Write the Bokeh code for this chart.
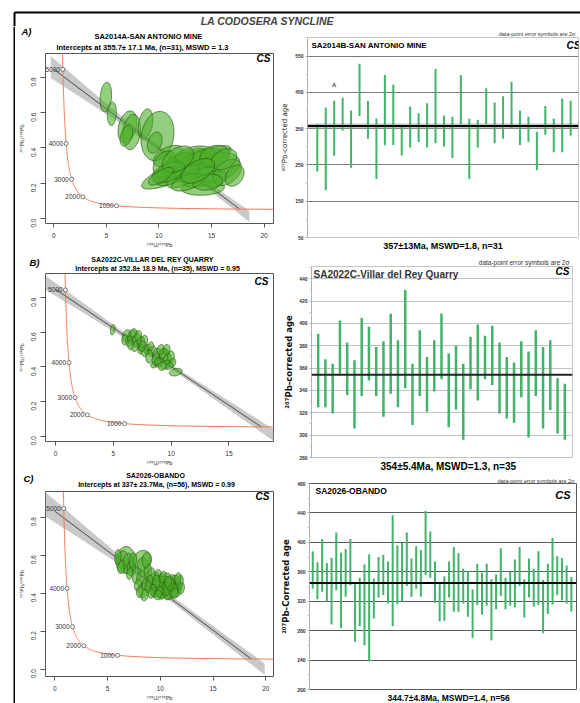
import numpy as np
from bokeh.plotting import figure
from bokeh.layouts import row, column
from bokeh.models import (Range1d, Label, FixedTicker, Span, BoxAnnotation, Title,
                          PrintfTickFormatter)
from bokeh.core.properties import value
from bokeh.embed import file_html
from bokeh.resources import INLINE

SANS = "Liberation Sans"
SUPER = "DejaVu Sans"          # complete set of superscript digits

# ---------------------------------------------------------------- constants
LAMBDA_238 = 1.55125e-10      # 1/yr
LAMBDA_235 = 9.8485e-10       # 1/yr
U238_OVER_U235 = 137.88
CONCORDIA_AGES_MA = list(range(250, 5601, 25))
CONCORDIA_TICK_AGES_MA = [1000, 2000, 3000, 4000, 5000]

# ---------------------------------------------------------------- sample SA2014A (Tera-Wasserburg)
A_ELL_X = [4.94, 5.51, 7.0, 7.4, 6.9, 8.72, 9.86, 12.6, 10.87, 12.28, 11.5, 13.23, 14.33, 15.6, 14.17,
           14.0, 15.28, 12.28, 10.55, 13.4, 15.3, 16.5, 12.75, 10.9, 11.8, 16.2, 9.6, 14.65, 17.2, 10.2, 13.7]
A_ELL_Y = [0.688, 0.594, 0.52, 0.49, 0.47, 0.535, 0.467, 0.29, 0.355, 0.314, 0.28, 0.30, 0.318, 0.29, 0.172,
           0.234, 0.224, 0.243, 0.308, 0.355, 0.355, 0.262, 0.206, 0.262, 0.336, 0.336, 0.43, 0.206, 0.243, 0.24, 0.27]
A_ELL_SX = [0.55, 0.43, 0.9, 0.85, 0.6, 0.7, 1.57, 4.25, 1.42, 2.36, 1.9, 1.73, 1.9, 2.1, 2.05,
            1.9, 1.2, 1.57, 1.1, 1.9, 1.4, 1.34, 1.57, 1.57, 1.5, 1.2, 0.7, 1.4, 0.9, 1.2, 1.6]
A_ELL_SY = [0.084, 0.067, 0.09, 0.1, 0.06, 0.086, 0.14, 0.123, 0.06, 0.084, 0.093, 0.09, 0.08, 0.084, 0.04,
            0.056, 0.047, 0.07, 0.075, 0.056, 0.06, 0.075, 0.05, 0.06, 0.075, 0.06, 0.06, 0.045, 0.06, 0.05, 0.07]
A_ELL_RHO = [0.2, 0.1, 0.3, 0.2, 0.4, 0.3, 0.15, 0.85, 0.5, 0.7, 0.6, 0.6, 0.4, 0.3, 0.1,
             0.4, 0.3, 0.6, 0.3, 0.3, 0.2, 0.4, 0.5, 0.5, 0.4, 0.3, 0.3, 0.2, 0.3, 0.7, 0.5]
A_DISC_X = [0.0, 17.66]
A_DISC_Y = [0.845, 0.054]
A_BAND_X = [-0.3, 3.0, 6.0, 10.0, 14.0, 17.0, 18.6]
A_BAND_HW = [0.062, 0.042, 0.024, 0.015, 0.018, 0.026, 0.032]

# ---------------------------------------------------------------- sample SA2022C
B_ELL_X = [4.94, 6.16, 6.65, 7.02, 6.36, 7.37, 6.88, 7.66, 5.98, 7.95, 8.38, 8.8, 9.39, 9.3, 9.68, 8.96, 8.53, 9.97,
           9.54, 10.1, 10.4, 8.1, 8.67, 7.37, 7.72, 9.1, 6.5, 7.14, 6.73, 9.83, 9.25, 8.24, 8.82, 9.6, 7.5]
B_ELL_Y = [0.615, 0.58, 0.573, 0.554, 0.548, 0.538, 0.519, 0.548, 0.557, 0.5, 0.49, 0.472, 0.466, 0.48, 0.443, 0.424,
           0.414, 0.458, 0.414, 0.424, 0.37, 0.462, 0.443, 0.5, 0.49, 0.5, 0.529, 0.58, 0.596, 0.405, 0.405, 0.52,
           0.433, 0.5, 0.52]
B_ELL_SX = [0.2, 0.38, 0.4, 0.38, 0.3, 0.35, 0.3, 0.3, 0.25, 0.3, 0.35, 0.4, 0.45, 0.35, 0.35, 0.4, 0.3, 0.3, 0.45,
            0.3, 0.55, 0.3, 0.3, 0.25, 0.3, 0.3, 0.25, 0.3, 0.3, 0.35, 0.35, 0.25, 0.3, 0.3, 0.3]
B_ELL_SY = [0.03, 0.035, 0.04, 0.04, 0.03, 0.04, 0.03, 0.035, 0.03, 0.03, 0.03, 0.035, 0.04, 0.03, 0.035, 0.025,
            0.02, 0.035, 0.025, 0.025, 0.022, 0.04, 0.035, 0.025, 0.03, 0.03, 0.03, 0.03, 0.025, 0.02, 0.025, 0.025,
            0.02, 0.03, 0.03]
B_ELL_RHO = [0.3, 0.2, 0.1, 0.1, 0.2, 0.1, 0.2, 0.2, 0.1, 0.2, 0.2, 0.1, 0.1, 0.2, 0.2, 0.3, 0.2, 0.1, 0.3,
             0.2, 0.3, 0.1, 0.2, 0.2, 0.1, 0.2, 0.1, 0.2, 0.2, 0.3, 0.2, 0.1, 0.2, 0.1, 0.2]
B_DISC_X = [0.0, 17.78]
B_DISC_Y = [0.848, 0.054]
B_BAND_X = [-0.9, 3.0, 6.0, 9.0, 12.0, 15.0, 18.9]
B_BAND_HW = [0.04, 0.026, 0.016, 0.012, 0.016, 0.025, 0.034]

# ---------------------------------------------------------------- sample SA2026
C_ELL_X = [6.69, 6.47, 6.94, 6.3, 7.26, 8.3, 8.36, 7.73, 8.2, 8.36, 8.68, 8.83, 7.89,
           9.46, 9.78, 10.1, 10.41, 10.73, 11.04, 11.36, 11.67, 11.51, 10.88, 10.25, 9.78, 9.31, 9.46, 10.57,
           9.94, 10.73, 11.2, 11.83, 9.15, 10.41, 10.1, 11.04, 9.62, 8.99, 9.31, 11.36, 10.57, 9.94, 10.88,
           10.25, 8.83, 8.52, 8.04, 7.41, 5.99, 7.1, 8.68, 11.99, 9.78, 11.67, 9.15, 10.73]
C_ELL_Y = [0.575, 0.573, 0.555, 0.538, 0.53, 0.573, 0.538, 0.494, 0.477, 0.416, 0.45, 0.512, 0.442,
           0.477, 0.494, 0.468, 0.45, 0.433, 0.442, 0.46, 0.433, 0.407, 0.398, 0.407, 0.425, 0.442, 0.407, 0.477,
           0.45, 0.39, 0.416, 0.46, 0.494, 0.425, 0.398, 0.468, 0.46, 0.46, 0.416, 0.398, 0.416, 0.407, 0.45,
           0.485, 0.433, 0.39, 0.407, 0.573, 0.59, 0.503, 0.573, 0.425, 0.39, 0.477, 0.398, 0.46]
C_ELL_SX = [0.9, 0.5, 0.5, 0.35, 0.4, 0.87, 0.55, 0.4, 0.45, 0.45, 0.4, 0.35, 0.35,
            0.4, 0.35, 0.4, 0.5, 0.45, 0.45, 0.5, 0.4, 0.45, 0.5, 0.45, 0.4, 0.35, 0.35, 0.4,
            0.45, 0.4, 0.45, 0.35, 0.35, 0.35, 0.4, 0.35, 0.35, 0.3, 0.3, 0.35, 0.35, 0.35, 0.4,
            0.3, 0.3, 0.35, 0.3, 0.35, 0.3, 0.3, 0.4, 0.3, 0.35, 0.3, 0.3, 0.35]
C_ELL_SY = [0.07, 0.05, 0.055, 0.035, 0.04, 0.052, 0.05, 0.045, 0.04, 0.04, 0.035, 0.04, 0.03,
            0.035, 0.03, 0.035, 0.04, 0.035, 0.04, 0.035, 0.03, 0.03, 0.03, 0.035, 0.035, 0.035, 0.03, 0.03,
            0.04, 0.025, 0.035, 0.035, 0.04, 0.03, 0.03, 0.03, 0.035, 0.035, 0.03, 0.025, 0.03, 0.03, 0.035,
            0.03, 0.03, 0.03, 0.03, 0.04, 0.04, 0.03, 0.04, 0.03, 0.025, 0.03, 0.025, 0.03]
C_ELL_RHO = [0.1, 0.0, 0.1, 0.2, 0.1, 0.1, 0.0, 0.1, 0.2, 0.1, 0.2, 0.1, 0.2,
             0.2, 0.1, 0.2, 0.1, 0.2, 0.1, 0.2, 0.1, 0.2, 0.1, 0.2, 0.1, 0.2, 0.1, 0.2,
             0.1, 0.2, 0.1, 0.2, 0.1, 0.2, 0.1, 0.2, 0.1, 0.2, 0.1, 0.2, 0.1, 0.2, 0.1,
             0.2, 0.1, 0.2, 0.1, 0.2, 0.1, 0.2, 0.1, 0.2, 0.1, 0.2, 0.1, 0.2]
C_DISC_X = [0.0, 18.63]
C_DISC_Y = [0.831, 0.053]
C_BAND_X = [-0.9, 3.0, 6.0, 9.0, 12.0, 15.0, 18.0, 19.9]
C_BAND_HW = [0.064, 0.04, 0.024, 0.017, 0.018, 0.022, 0.027, 0.03]

# ---------------------------------------------------------------- 207Pb-corrected ages (2 sigma bars)
A_AGE_HI = [363, 408, 427, 435, 400, 529, 426, 378, 498, 471, 356, 411, 392, 420, 514, 386,
            383, 498, 377, 374, 461, 422, 439, 479, 400, 383, 341, 412, 378, 433, 427]
A_AGE_LO = [232, 180, 275, 345, 242, 385, 322, 211, 304, 305, 276, 298, 313, 298, 310, 301,
            269, 363, 211, 298, 363, 310, 322, 351, 305, 313, 235, 333, 285, 285, 330]
A_MEAN, A_MEAN_ERR, A_MSWD = 357, 13, 1.8
A_MEAN_BAND = 7

B_AGE_HI = [390.6, 368, 364, 402.6, 383, 367, 405, 397, 379, 384, 408.6, 385, 430, 364, 394, 370, 385, 409,
            373, 380, 364, 388, 399, 389, 398, 383, 370, 365, 384, 375, 394, 379, 385, 351, 346]
B_AGE_LO = [324.9, 325, 319.5, 355, 336, 306, 335, 349, 335, 316.5, 337, 325, 342, 309, 335, 321, 339, 350,
            307, 323, 296, 341, 331, 350, 345, 319.5, 315, 311, 334, 298, 335, 306, 322.5, 301.5, 296]
B_MEAN, B_MEAN_ERR, B_MSWD = 354, 5.4, 1.3

C_AGE_HI = [388, 373, 404.5, 372, 379, 413.5, 386, 391, 404.5, 343, 352, 370, 384, 351, 380, 383, 374, 437,
            396, 399, 413.5, 378, 394.6, 390, 442.7, 414.8, 374, 343, 354, 374, 393.7, 385.6, 364, 361, 336,
            371, 358.6, 370.8, 349.7, 356.4, 392, 352, 360, 376.6, 393.7, 349.7, 378, 364, 387.9, 348.7,
            371, 405.8, 381, 378.9, 368.5, 353]
C_AGE_LO = [337, 322.7, 333, 319.5, 288.5, 335, 283.6, 326, 341.6, 265, 286, 260, 238, 296.6, 325, 328.5,
            317, 286, 316, 320, 340.7, 326, 337, 326, 356, 352, 317.7, 292.6, 293.5, 325, 305.6, 305.6,
            316.8, 299, 270, 315, 302, 313.7, 266.5, 309, 327, 309, 313.7, 311.5, 340.7, 298, 325, 312.8,
            315, 276.4, 302.5, 315.5, 328.5, 321, 317, 306]
C_MEAN, C_MEAN_ERR, C_MSWD = 344.7, 4.8, 1.4

ELL_FILL = "#4caf2a"
ELL_LINE = "#2a5a12"
BAR_COLOR = "#41b36a"
CONC_COLOR = "#f07a5a"
THETA = np.linspace(0.0, 2.0 * np.pi, 64)
PB76 = "\u00b2\u2070\u2077Pb/\u00b2\u2070\u2076Pb"
U8PB6 = "\u00b2\u00b3\u2078U/\u00b2\u2070\u2076Pb"
SIGMA_NOTE = "data-point error symbols are 2\u03c3"


# ---------------------------------------------------------------- helpers
def bare(w, h, xr, yr):
    f = figure(width=w, height=h, x_range=Range1d(*xr), y_range=Range1d(*yr), min_border=0,
               toolbar_location=None, output_backend="svg", x_axis_location=None,
               y_axis_location=None, outline_line_color=None, background_fill_color="white",
               border_fill_color="white", frame_align=False)
    f.grid.visible = False
    return f


def text_strip(origin, w, h, items):
    """A text-only band; items hold page pixel positions."""
    ox, oy = origin
    f = bare(w, h, (0, w), (h, 0))
    for x, y, text, size, style, align, color in items:
        f.add_layout(Label(x=x - ox, y=y - oy, text=text, text_font=SANS, text_font_size=f"{size}px",
                           text_font_style=style, text_align=align, text_baseline="middle",
                           text_color=color))
    return f


def make_fig(origin, size, border, xr, yr):
    ox, oy = origin
    w, h = size
    bl, bt, br, bb = border
    p = figure(width=w, height=h, x_range=Range1d(*xr), y_range=Range1d(*yr),
               min_border_left=bl, min_border_top=bt, min_border_right=br, min_border_bottom=bb,
               toolbar_location=None, output_backend="svg", frame_align=False,
               background_fill_color="white", border_fill_color="white")
    p.xgrid.visible = False
    p.ygrid.visible = False
    frame = (ox + bl, oy + bt, ox + w - br, oy + h - bb)
    return p, frame


def put(p, frame, x, y, text, size, style="normal", align="center", color="#000000"):
    """Text inside a plot frame, given in page pixels."""
    p.add_layout(Label(x=x - frame[0], y=frame[3] - y, x_units="screen", y_units="screen",
                       text=text, text_font=SANS, text_font_size=f"{size}px",
                       text_font_style=style, text_align=align, text_baseline="middle",
                       text_color=color))


def ellipse_paths(cx, cy, sx, sy, rho):
    xs, ys = [], []
    for x0, y0, a, b, r in zip(cx, cy, sx, sy, rho):
        xs.append((x0 + a * np.cos(THETA)).tolist())
        ys.append((y0 + b * (r * np.cos(THETA) + np.sqrt(1 - r * r) * np.sin(THETA))).tolist())
    return xs, ys


def concordia(ages_ma):
    t = np.asarray(ages_ma, dtype=float) * 1e6
    e238 = np.expm1(LAMBDA_238 * t)
    e235 = np.expm1(LAMBDA_235 * t)
    return 1.0 / e238, e235 / e238 / U238_OVER_U235


def isochron(origin, size, border, xr, yr, xticks, ell, disc_x, disc_y, band_x, band_hw):
    p, fr = make_fig(origin, size, border, xr, yr)
    p.outline_line_color = "#555555"
    slope = (disc_y[1] - disc_y[0]) / (disc_x[1] - disc_x[0])
    centre = disc_y[0] + slope * (np.asarray(band_x) - disc_x[0])
    p.varea(x=band_x, y1=(centre - np.asarray(band_hw)).tolist(),
            y2=(centre + np.asarray(band_hw)).tolist(), fill_color="#9c9c9c", fill_alpha=0.55)
    p.line(disc_x, disc_y, line_color="#4a4a4a", line_width=1)
    cxv, cyv = concordia(CONCORDIA_AGES_MA)
    p.line(cxv.tolist(), cyv.tolist(), line_color=CONC_COLOR, line_width=1)
    mx, my = concordia(CONCORDIA_TICK_AGES_MA)
    p.scatter(mx.tolist(), my.tolist(), marker="circle", size=4, fill_color="white",
              line_color="#555555", line_width=0.8)
    p.text(mx.tolist(), my.tolist(), text=[str(a) for a in CONCORDIA_TICK_AGES_MA],
           text_font=value(SANS), text_font_size="6.5px", text_color="#333333",
           text_align="right", text_baseline="middle", x_offset=-3)
    xs, ys = ellipse_paths(*ell)
    p.patches(xs, ys, fill_color=ELL_FILL, fill_alpha=0.6, line_color=ELL_LINE,
              line_width=0.8, line_alpha=0.85)
    for ax in (p.xaxis[0], p.yaxis[0]):
        ax.major_label_text_font = SANS
        ax.major_label_text_font_size = "6.5px"
        ax.major_label_text_color = "#333333"
        ax.axis_line_color = "#555555"
        ax.major_tick_line_color = "#555555"
        ax.major_tick_in = 0
        ax.minor_tick_out = 0
        ax.minor_tick_in = 0
        ax.axis_label_text_font = SUPER
        ax.axis_label_text_font_size = "5.5px"
        ax.axis_label_text_font_style = "normal"
        ax.axis_label_text_color = "#333333"
    p.xaxis.axis_label = U8PB6
    p.xaxis.major_tick_out = 4
    p.xaxis.major_label_standoff = 5
    p.xaxis.axis_label_standoff = 1
    p.yaxis.axis_label = PB76
    p.yaxis.major_tick_out = 5
    p.yaxis.major_label_standoff = 7
    p.yaxis.axis_label_standoff = 1
    p.xaxis.ticker = FixedTicker(ticks=xticks, minor_ticks=[])
    p.xaxis.bounds = (xticks[0], xticks[-1])
    p.yaxis.ticker = FixedTicker(ticks=[0.0, 0.2, 0.4, 0.6, 0.8], minor_ticks=[])
    p.yaxis.bounds = (0.0, 0.8)
    p.yaxis.formatter = PrintfTickFormatter(format="%.1f")
    p.yaxis.major_label_orientation = np.pi / 2
    return p, fr


def mean_plot(origin, size, border, xr, yr, hi, lo, ticks, minor, grid, grid_color,
              tick_size, outline, bar_width, ylabel, ylabel_size, ylabel_style, ylabel_standoff,
              note, caption):
    p, fr = make_fig(origin, size, border, xr, yr)
    p.outline_line_color = outline
    p.xaxis.visible = False
    p.ygrid.visible = True
    p.ygrid.ticker = FixedTicker(ticks=grid)
    p.ygrid.grid_line_color = grid_color
    p.ygrid.grid_line_width = 1.1
    idx = list(range(1, len(hi) + 1))
    p.segment(x0=idx, y0=lo, x1=idx, y1=hi, line_color=BAR_COLOR, line_width=bar_width)
    ax = p.yaxis[0]
    ax.ticker = FixedTicker(ticks=ticks, minor_ticks=minor)
    ax.major_label_text_font = SANS
    ax.major_label_text_font_size = f"{tick_size}px"
    ax.major_label_text_font_style = "bold"
    ax.major_label_text_color = "#333333"
    ax.axis_line_color = "#b0b0b0"
    ax.major_tick_line_color = "#b0b0b0"
    ax.minor_tick_line_color = "#c8c8c8"
    ax.major_tick_in = 0
    ax.minor_tick_in = 0
    ax.major_tick_out = 2
    ax.minor_tick_out = 2
    ax.major_label_standoff = 2
    ax.axis_label = ylabel
    ax.axis_label_text_font = SUPER
    ax.axis_label_text_font_size = f"{ylabel_size}px"
    ax.axis_label_text_font_style = ylabel_style
    ax.axis_label_text_color = "#111111"
    ax.axis_label_standoff = ylabel_standoff
    # sigma note above the frame, result line below it
    n_text, n_size, n_offset, n_standoff = note
    p.add_layout(Title(text=n_text, align="right", offset=n_offset, standoff=n_standoff,
                       text_font=SANS, text_font_size=f"{n_size}px", text_font_style="normal",
                       text_color="#333333"), "above")
    c_text, c_size, c_align, c_offset, c_standoff = caption
    p.add_layout(Title(text=c_text, align=c_align, offset=c_offset, standoff=c_standoff,
                       text_font=SANS, text_font_size=f"{c_size}px", text_font_style="bold",
                       text_color="#000000"), "below")
    return p, fr


# ---------------------------------------------------------------- header and outer frame
header = bare(580, 26, (0, 580), (26, 0))
header.segment(x0=[14, 14], y0=[12, 12], x1=[580, 14], y1=[12, 26], line_color="black", line_width=2)
header.add_layout(Label(x=267, y=20, text="LA CODOSERA SYNCLINE", text_font=SANS,
                        text_font_size="10.5px", text_font_style="bold italic",
                        text_align="center", text_baseline="middle"))

strip = bare(15, 677, (0, 15), (0, 1))
strip.add_layout(Span(location=14, dimension="height", line_color="black", line_width=2))

# ---------------------------------------------------------------- left column: isochrons
tA = text_strip((15, 26), 263, 27, [
    (26, 31, "A)", 9.5, "bold italic", "center", "#000000"),
    (148, 36, "SA2014A-SAN ANTONIO MINE", 7.5, "bold", "center", "#000000"),
    (143, 47, "Intercepts at  355.7\u00b1 17.1 Ma, (n=31), MSWD = 1.3", 7.5, "bold", "center", "#000000"),
])
pa, fa = isochron((15, 53), (263, 197), (28, 0, 5, 25), (-0.8, 20.9), (-0.028, 0.935),
                  [0, 5, 10, 15, 20], (A_ELL_X, A_ELL_Y, A_ELL_SX, A_ELL_SY, A_ELL_RHO),
                  A_DISC_X, A_DISC_Y, A_BAND_X, A_BAND_HW)
put(pa, fa, 268, 60, "CS", 10, "bold italic", align="right")

tB = text_strip((15, 250), 263, 23, [
    (34, 262, "B)", 9.5, "bold italic", "center", "#000000"),
    (152, 259, "SA2022C-VILLAR DEL REY QUARRY", 7, "bold", "center", "#000000"),
    (158, 267.5, "Intercepts at  352.8\u00b1 18.9 Ma, (n=35), MSWD = 0.95", 7, "bold", "center", "#000000"),
])
pb, fb_ = isochron((15, 273), (263, 195), (30, 0, 5, 25), (-0.87, 18.85), (-0.031, 0.94),
                   [0, 5, 10, 15], (B_ELL_X, B_ELL_Y, B_ELL_SX, B_ELL_SY, B_ELL_RHO),
                   B_DISC_X, B_DISC_Y, B_BAND_X, B_BAND_HW)
put(pb, fb_, 268, 283, "CS", 10, "bold italic", align="right")

tC = text_strip((15, 468), 263, 23, [
    (28, 478, "C)", 9.5, "bold italic", "center", "#000000"),
    (155, 474.5, "SA2026-OBANDO", 7, "bold", "center", "#000000"),
    (157, 484, "Intercepts at  337\u00b1 23.7Ma, (n=56), MSWD = 0.99", 7, "bold", "center", "#000000"),
])
pc, fc = isochron((15, 491), (263, 212), (29, 0, 5, 26), (-0.88, 20.73), (-0.039, 0.935),
                  [0, 5, 10, 15, 20], (C_ELL_X, C_ELL_Y, C_ELL_SX, C_ELL_SY, C_ELL_RHO),
                  C_DISC_X, C_DISC_Y, C_BAND_X, C_BAND_HW)
put(pc, fc, 268, 497, "CS", 10, "bold italic", align="right")

# ---------------------------------------------------------------- right column: weighted means
qa, ga = mean_plot((278, 26), (302, 226), (24, 11, 2, 14), (-0.16, 31.93), (50, 601),
                   A_AGE_HI, A_AGE_LO, [50, 150, 250, 350, 450, 550], [100, 200, 300, 400, 500, 600],
                   [150, 250, 350, 450, 550], "#7a7a7a", 5, "#c4c4c4", 2,
                   "\u00b2\u2070\u2077Pb-corrected age", 7, "normal", 3,
                   (SIGMA_NOTE, 5.5, 3, 1),
                   (f"{A_MEAN}\u00b1{A_MEAN_ERR}Ma, MSWD={A_MSWD}, n={len(A_AGE_HI)}", 9, "center", 0, 3))
qa.add_layout(BoxAnnotation(bottom=A_MEAN - A_MEAN_BAND, top=A_MEAN + A_MEAN_BAND,
                            fill_color="#a0a0a0", fill_alpha=0.6, line_color=None, level="underlay"))
qa.add_layout(Span(location=A_MEAN, dimension="width", line_color="black", line_width=2))
qa.add_layout(Label(x=3, y=471, text="A", text_font=SANS, text_font_size="6px",
                    text_font_style="bold", text_align="center", text_baseline="middle"))
put(qa, ga, 306, 46, "SA2014B-SAN ANTONIO MINE", 8, "bold", align="left")
put(qa, ga, 575, 46, "CS", 10, "bold italic", align="right")

qb, gb = mean_plot((278, 252), (302, 222), (33, 14, 8, 17), (0.08, 36.06), (280, 451),
                   B_AGE_HI, B_AGE_LO, [280, 300, 320, 340, 360, 380, 400, 420, 440],
                   [290, 310, 330, 350, 370, 390, 410, 430, 450],
                   [300, 320, 340, 360, 380, 400, 420, 440], "#c2c2c2", 5, "#c4c4c4", 2.5,
                   "\u00b2\u2070\u2077Pb-corrected age", 8.5, "bold", 2,
                   (SIGMA_NOTE, 6.5, 3, 1),
                   (f"{B_MEAN}\u00b1{B_MEAN_ERR}Ma, MSWD={B_MSWD}, n={len(B_AGE_HI)}", 10, "left", 69, 3))
qb.add_layout(Span(location=B_MEAN, dimension="width", line_color="#222222", line_width=2))
put(qb, gb, 313, 274, "SA2022C-Villar del Rey Quarry", 10, "bold", align="left", color="#333333")
put(qb, gb, 569, 271, "CS", 10, "bold italic", align="right")

qc, gc = mean_plot((278, 474), (302, 229), (27, 9, 4, 12), (0.31, 57.1), (200, 480),
                   C_AGE_HI, C_AGE_LO, [200, 240, 280, 320, 360, 400, 440, 480],
                   [220, 260, 300, 340, 380, 420, 460],
                   [240, 280, 320, 360, 400, 440], "#5a5a5a", 5, "#5a5a5a", 2,
                   "\u00b2\u2070\u2077Pb-Corrected age", 8.5, "bold", 3,
                   (SIGMA_NOTE, 5.5, 2, 0),
                   (f"{C_MEAN}\u00b1{C_MEAN_ERR}Ma, MSWD={C_MSWD}, n={len(C_AGE_HI)}", 8.5, "left", 78, 2))
qc.add_layout(Span(location=C_MEAN, dimension="width", line_color="black", line_width=2))
put(qc, gc, 311, 492, "SA2026-OBANDO", 8.5, "bold", align="left")
put(qc, gc, 566, 496, "CS", 11, "bold italic", align="right")

left_col = column(tA, pa, tB, pb, tC, pc)
right_col = column(qa, qb, qc)
layout = column(header, row(strip, left_col, right_col))

open("out.html", "w").write(file_html(layout, INLINE))
